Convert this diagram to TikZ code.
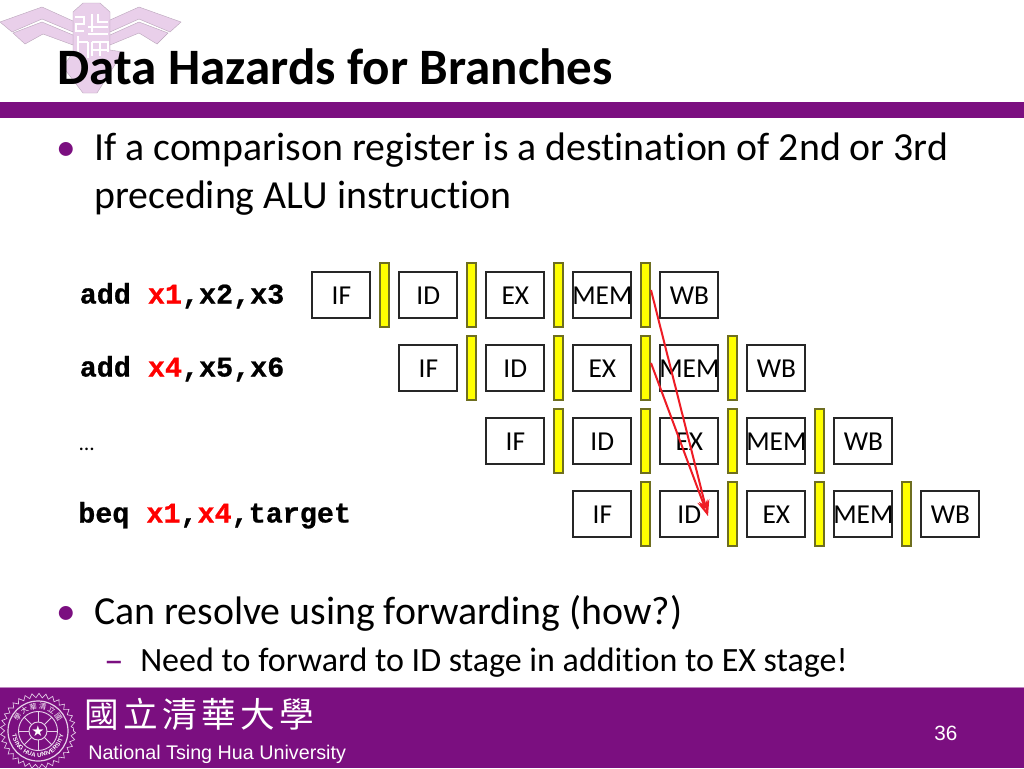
\documentclass[tikz,border=0pt]{standalone}
\usepackage{fontspec}
\usetikzlibrary{arrows.meta,decorations.text,decorations.pathmorphing}
\setmainfont{Carlito}[Ligatures={NoCommon}]
\newfontfamily\codefont{Liberation Mono}[BoldFeatures={FakeBold=0.8}]
\newfontfamily\arialfont{Liberation Sans}
\newfontfamily\cjkfont{Noto Sans CJK TC}[LetterSpace=12.5]
\newfontfamily\sealcjk{Noto Sans CJK TC}
\newfontfamily\symbfont{DejaVu Sans}
\definecolor{nthu}{HTML}{7B0F80}
\definecolor{nthulogo}{HTML}{E9CFEA}
\definecolor{barfill}{HTML}{FFFF00}
\definecolor{barline}{HTML}{6E6E20}
\definecolor{hazard}{HTML}{EE1C25}
\definecolor{sealline}{HTML}{E6CFE8}
\tikzset{
  x=0.75pt,y=-0.75pt,
  stagebox/.style={draw=black!85,line width=1.4pt,minimum width=43.5pt,minimum height=34.5pt,inner sep=0pt,font=\fontsize{20.5}{20.5}\selectfont,anchor=north west},
  latch/.style={draw=barline,line width=0.8pt,fill=barfill},
  body/.style={anchor=base west,inner sep=0pt,font=\fontsize{29.85}{30}\selectfont},
  subbody/.style={anchor=base west,inner sep=0pt,font=\fontsize{25.5}{26}\selectfont},
  code/.style={anchor=base west,inner sep=0pt,font=\codefont\bfseries\fontsize{21.3}{21.3}\selectfont},
  bulletdot/.style={anchor=base west,inner sep=0pt,text=nthu,font=\fontsize{29.5}{30}\selectfont},
  logoshape/.style={fill=nthulogo,draw=nthulogo!80!black,line width=0.3pt},
  hazardarrow/.style={draw=hazard,line width=1.5pt,-{Stealth[open,length=12pt,width=8pt,fill=white]}},
  footer/.style={anchor=base west,inner sep=0pt,text=white},
}
\newcommand{\stage}[4]{\node[stagebox] (#1) at (#2-0.6,#3-0.6) {\makebox[0pt][c]{#4}};}
\newcommand{\latchbar}[3]{\path[latch] (#2,#3) rectangle +(9,64) coordinate (#1);}
\begin{document}
\begin{tikzpicture}
\useasboundingbox (0,0) rectangle (1024,768);
\fill[white] (0,0) rectangle (1024,768);
% logo
\path[logoshape] (73,12) -- (83,3) -- (100,3) -- (110,12) -- (110,50) -- (123,52) -- (97,93) -- (83,93) -- (63,67) -- (73,52) -- cycle;
\path[logoshape] (0,22) -- (42,7) -- (73,21) -- (73,32) -- (42,19) -- (12,32) -- cycle;
\path[logoshape] (13,33) -- (42,22) -- (73,35) -- (73,45) -- (43,34) -- (25,44) -- cycle;
\path[logoshape] (181,22) -- (139,7) -- (110,20) -- (110,32) -- (139,19) -- (170,32) -- cycle;
\path[logoshape] (168,33) -- (139,22) -- (110,35) -- (110,45) -- (139,33) -- (157,44) -- cycle;
\draw[white,line width=2.2pt] (75,17) -- (84,17) -- (84,24) -- (76,24) -- (76,31) -- (84,31) (92,14) -- (92,32) (98,14) -- (98,22) -- (108,22) (88,27) -- (108,27) (88,34) -- (108,34) (78,36) -- (78,58) (78,42) -- (88,42) (88,42) -- (88,58) (92,42) -- (108,42) -- (108,52) (92,42) -- (92,56) (100,42) -- (100,56) (92,50) -- (108,50);
% title and bars
\node[anchor=base west,inner sep=0pt,font=\bfseries\fontsize{38.3}{38.3}\selectfont] (title) at (57,84) {Data Hazards for Branches};
\fill[nthu] (0,102) rectangle (1024,118);
\fill[nthu] (0,688) rectangle (1024,768);
\draw[nthu!50,line width=0.5pt] (0,687.5) -- (1024,687.5);
% bullets
\node[bulletdot] (b1) at (56,160) {•};
\node[body] (t1) at (94,160) {If a comparison register is a destination of 2nd or 3rd};
\node[body] (t1b) at (94,208) {preceding ALU instruction};
\node[bulletdot] (b2) at (56,624) {•};
\node[body] (t2) at (94,624) {Can resolve using forwarding (how?)};
\node[anchor=base west,inner sep=0pt,text=nthu,font=\fontsize{29.5}{30}\selectfont] (d3) at (104,673) {–};
\node[subbody] (t3) at (140,671) {Need to forward to ID stage in addition to EX stage!};
% code
\node[code] (c1) at (79.5,303.5) {add \textcolor{red}{x1},x2,x3};
\node[code] (c2) at (79.5,376.5) {add \textcolor{red}{x4},x5,x6};
\node[anchor=base west,inner sep=0pt,font=\fontsize{16}{16}\selectfont] (c3) at (79,450) {…};
\node[code] (c4) at (78,522.5) {beq \textcolor{red}{x1},\textcolor{red}{x4},target};
% latches
\latchbar{la1}{380}{263}\latchbar{la2}{467}{263}\latchbar{la3}{554}{263}\latchbar{la4}{641}{263}
\latchbar{lb1}{467}{336}\latchbar{lb2}{554}{336}\latchbar{lb3}{641}{336}\latchbar{lb4}{728}{336}
\latchbar{lc1}{554}{409}\latchbar{lc2}{641}{409}\latchbar{lc3}{728}{409}\latchbar{lc4}{815}{409}
\latchbar{ld1}{641}{482}\latchbar{ld2}{728}{482}\latchbar{ld3}{815}{482}\latchbar{ld4}{902}{482}
% stages
\stage{a1}{312}{272}{IF}\stage{a2}{399}{272}{ID}\stage{a3}{486}{272}{EX}\stage{a4}{573}{272}{MEM}\stage{a5}{660}{272}{WB}
\stage{b1s}{399}{345}{IF}\stage{b2s}{486}{345}{ID}\stage{b3s}{573}{345}{EX}\stage{b4s}{660}{345}{MEM}\stage{b5s}{747}{345}{WB}
\stage{c1s}{486}{418}{IF}\stage{c2s}{573}{418}{ID}\stage{c3s}{660}{418}{EX}\stage{c4s}{747}{418}{MEM}\stage{c5s}{834}{418}{WB}
\stage{d1s}{573}{491}{IF}\stage{d2s}{660}{491}{ID}\stage{d3s}{747}{491}{EX}\stage{d4s}{834}{491}{MEM}\stage{d5s}{921}{491}{WB}
% forwarding
\coordinate (fa) at (651,290);
\coordinate (fb) at (651,363);
\coordinate (ft) at (708,516);
\draw[hazardarrow] (fa) -- (ft);
\draw[hazardarrow] (fb) -- (ft);
% seal
\draw[sealline,line width=0.5pt,decorate,decoration={zigzag,segment length=5pt,amplitude=1.6pt}] (38,731) circle (35.5);
\draw[sealline,line width=0.9pt] (38,731) circle (30);
\draw[sealline,line width=0.7pt] (38,731) circle (19.5);
\draw[sealline,line width=0.7pt] (38,731) circle (9);
\foreach \a in {0,45,...,315} \draw[sealline,line width=0.7pt] (38,731) ++(\a:9) -- ++(\a:10.5);
\node[text=white,inner sep=0pt,font=\symbfont\fontsize{11}{11}\selectfont] (star) at (38,731) {★};
\path[decorate,decoration={text along path,text color=white,text align=fit to path,text={|\arialfont\bfseries\fontsize{4.5}{5}\selectfont|TSING HUA UNIVERSITY}}] (38,731) ++(172:26) arc[start angle=172,end angle=8,radius=26];
\path[decorate,decoration={text along path,text color=white,text align=fit to path,text={|\sealcjk\fontsize{5.5}{5.5}\selectfont|學大華清立國}}] (38,731) ++(205:22) arc[start angle=205,end angle=335,radius=22];
% footer
\node[anchor=base west,inner sep=0pt,text=white,font=\cjkfont\fontsize{26}{26}\selectfont] (cn) at (84,727) {國立清華大學};
\node[footer,font=\arialfont\fontsize{14.8}{16}\selectfont] (uni) at (88,759) {National Tsing Hua University};
\node[footer,font=\arialfont\fontsize{15.5}{16}\selectfont] (page) at (934,740) {36};
\end{tikzpicture}
\end{document}
